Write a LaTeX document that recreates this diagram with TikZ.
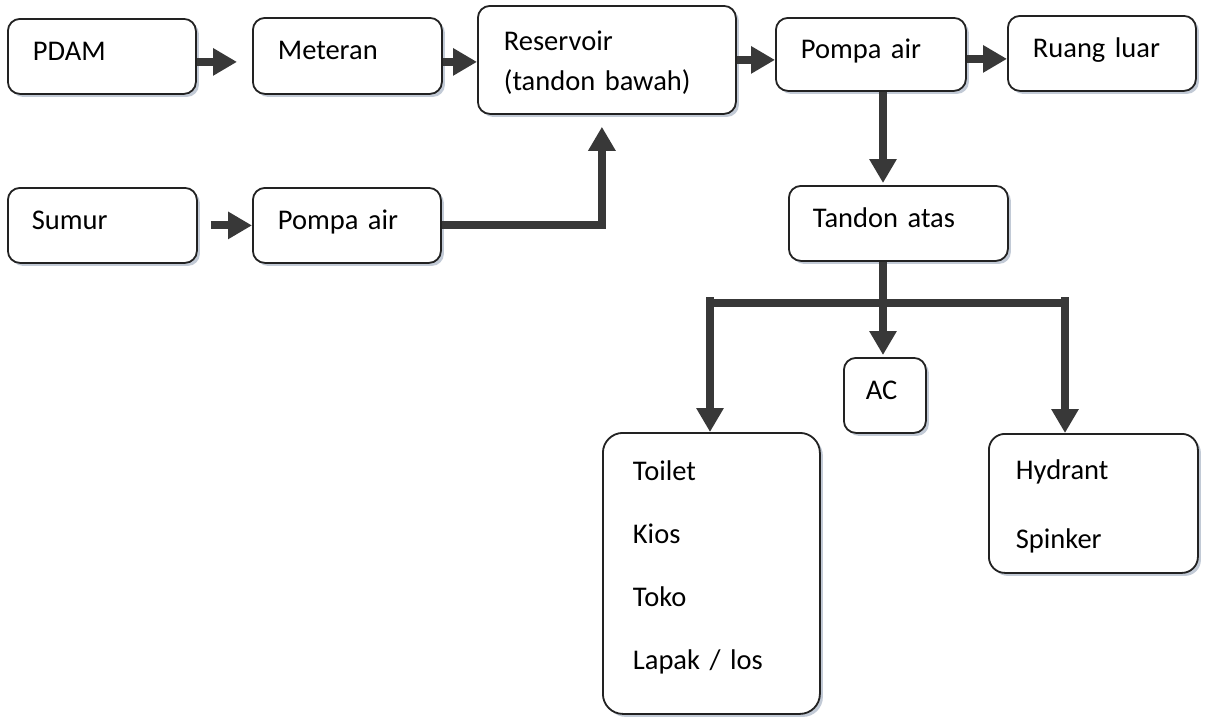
\documentclass[tikz,border=0pt]{standalone}
\usepackage{fontspec}
\setmainfont{Carlito}
\usetikzlibrary{arrows.meta,shadows}
\definecolor{edge}{HTML}{222222}
\definecolor{pipecol}{HTML}{383838}
\definecolor{shade}{HTML}{9AA8BC}
\begin{document}
\begin{tikzpicture}[x=1pt,y=-1pt,
  box/.style={draw=edge, line width=1.8pt, rounded corners=12pt, fill=white,
    anchor=north west, align=left, inner ysep=0pt,
    font=\fontsize{28.5}{34}\selectfont,
    drop shadow={shadow xshift=3pt, shadow yshift=-3pt, fill=shade, opacity=0.6}},
  oneline/.style={text height=20pt, text depth=12pt},
  dims/.style n args={3}{minimum height=#1, text width=#2, inner xsep=#3},
  pipe/.style={draw=pipecol, line width=8pt},
  flow/.style={pipe, -{Triangle[length=24pt,width=26pt]}},
]
\fill[white] (0,0) rectangle (1205,716);

% supply side
\node[box, oneline, dims={75pt}{138pt}{25pt}] (pdam) at (7,18) {PDAM};
\node[box, oneline, dims={76pt}{139pt}{25pt}] (met) at (252,17) {Meteran};
\node[box, dims={108pt}{206pt}{26pt}] (res) at (477,5)
  {\rule{0pt}{25pt}Reservoir\\[6pt](tandon bawah)};
\node[box, oneline, dims={73pt}{140pt}{25pt}] (pt) at (775,17) {Pompa air};
\node[box, oneline, dims={75pt}{138pt}{25pt}] (rl) at (1007,15) {Ruang luar};
\node[box, oneline, dims={75pt}{141pt}{24pt}] (sumur) at (7,187) {Sumur};
\node[box, oneline, dims={75pt}{138pt}{25pt}] (pb) at (252,187) {Pompa air};

% distribution side
\node[box, oneline, dims={75pt}{171pt}{24pt}] (ta) at (788,185) {Tandon atas};
\node[box, oneline, dims={75pt}{38pt}{22pt}] (ac) at (843,357) {AC};
\node[box, rounded corners=20pt, dims={281pt}{157pt}{30pt}] (toilet) at (602,432)
  {Toilet\\[29pt]Kios\\[29pt]Toko\\[29pt]Lapak / los\rule[-16pt]{0pt}{1pt}};
\node[box, rounded corners=16pt, dims={139pt}{155pt}{27pt}] (hyd) at (988,433)
  {\rule{0pt}{26pt}Hydrant\\[35pt]Spinker};

% horizontal feed arrows
\coordinate (a1) at ([yshift=-5.5pt]pdam.east);
\draw[flow, shorten >=15pt] (a1) -- (a1 -| met.west);
\coordinate (a2) at ([yshift=-6pt]met.east);
\draw[flow] (a2) -- (a2 -| res.west);
\draw[flow] (res.east) -- (res.east -| pt.west);
\coordinate (a4) at ([yshift=-4.5pt]pt.east);
\draw[flow] (a4) -- (a4 -| rl.west);
\draw[flow, shorten <=13pt] (sumur.east) -- (sumur.east -| pb.west);
\draw[flow, shorten >=12pt] (pb.east) -| ([xshift=-5pt]res.south);

% pump to roof tank and branch bus
\coordinate (jn) at (883,303);
\coordinate (bl) at (710,297);
\coordinate (br) at (1065,297);
\draw[flow, shorten >=2pt] (jn |- pt.south) -- (jn |- ta.north);
\draw[pipe] (ta.south -| jn) -- (jn);
\draw[pipe] (bl |- jn) -- (br |- jn);
\draw[flow] (bl) -- (bl |- toilet.north);
\draw[flow, shorten >=2pt] (jn) -- (jn |- ac.north);
\draw[flow] (br) -- (br |- hyd.north);
\end{tikzpicture}
\end{document}
